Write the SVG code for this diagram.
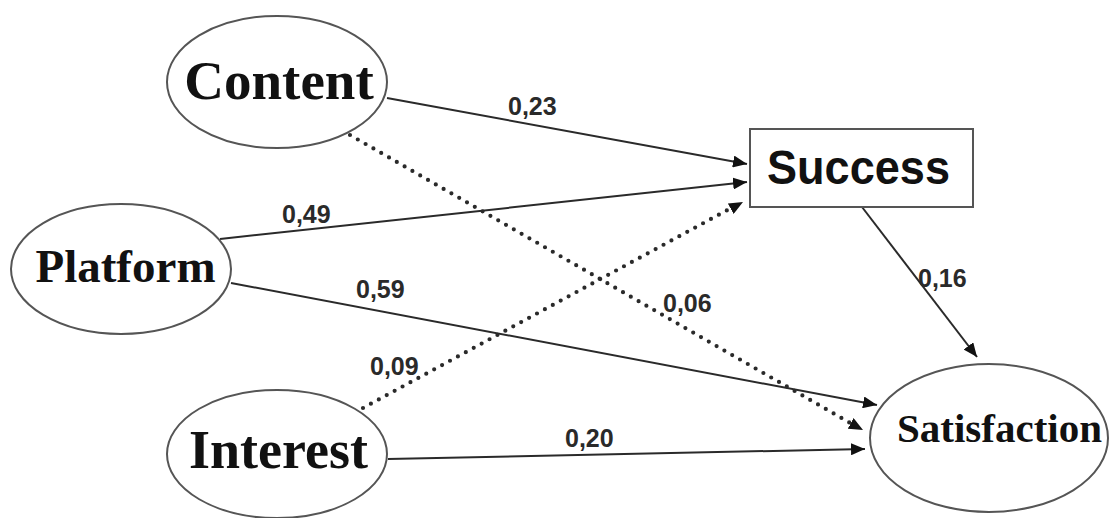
<svg xmlns="http://www.w3.org/2000/svg" width="1109" height="518" viewBox="0 0 1109 518">
<defs>
<marker id="ah" markerUnits="userSpaceOnUse" markerWidth="14" markerHeight="12" refX="14" refY="6" orient="auto">
<path d="M0,0 L14,6 L0,12 z" fill="#111"/>
</marker>
<style>
.node{fill:#fff;stroke:#555;stroke-width:2}
.lat{font-family:"Liberation Serif","Times New Roman",serif;font-weight:bold;fill:#111;text-anchor:middle}
.solid{fill:none;stroke:#2a2a2a;stroke-width:2}
.dot{fill:none;stroke:#2a2a2a;stroke-width:4.2;stroke-linecap:round;stroke-dasharray:0 9}
.lbl{font-family:"Liberation Sans",Arial,sans-serif;font-size:25px;font-weight:bold;fill:#2a2a2a}
</style>
</defs>
<rect width="1109" height="518" fill="#fff"/>
<g id="connectors">
<line class="solid" x1="387" y1="98" x2="747" y2="164" marker-end="url(#ah)"/>
<line class="solid" x1="220" y1="239" x2="747" y2="182" marker-end="url(#ah)"/>
<line class="solid" x1="231" y1="283" x2="877" y2="405" marker-end="url(#ah)"/>
<line class="solid" x1="388" y1="459" x2="865" y2="449" marker-end="url(#ah)"/>
<line class="solid" x1="862" y1="207" x2="977" y2="357" marker-end="url(#ah)"/>
<line class="dot" x1="350" y1="135" x2="852" y2="424"/>
<path d="M850,423 L863,430" fill="none" stroke="none" marker-end="url(#ah)"/>
<line class="dot" x1="363" y1="408" x2="733" y2="207"/>
<path d="M732,208 L743,202" fill="none" stroke="none" marker-end="url(#ah)"/>
<text class="lbl" x="508" y="115">0,23</text>
<text class="lbl" x="282" y="223">0,49</text>
<text class="lbl" x="356" y="298">0,59</text>
<text class="lbl" x="918" y="287">0,16</text>
<text class="lbl" x="663" y="312">0,06</text>
<text class="lbl" x="370" y="375">0,09</text>
<text class="lbl" x="565" y="447">0,20</text>
</g>
<g id="content">
<ellipse class="node" cx="277" cy="82" rx="110" ry="66"/>
<text class="lat" x="279" y="99" font-size="55">Content</text>
</g>
<g id="platform">
<ellipse class="node" cx="121" cy="269" rx="110" ry="65"/>
<text class="lat" x="125.5" y="282" font-size="47">Platform</text>
</g>
<g id="interest">
<ellipse class="node" cx="277" cy="454" rx="110" ry="64"/>
<text class="lat" x="278.5" y="468" font-size="54">Interest</text>
</g>
<g id="success">
<rect class="node" x="750" y="129" width="223" height="78"/>
<text x="767" y="184" font-family="'Liberation Sans',Arial,sans-serif" font-weight="bold" font-size="49" fill="#111" textLength="183" lengthAdjust="spacingAndGlyphs">Success</text>
</g>
<g id="satisfaction">
<ellipse class="node" cx="989" cy="438" rx="119" ry="74"/>
<text class="lat" x="999.5" y="442" font-size="41">Satisfaction</text>
</g>
</svg>
